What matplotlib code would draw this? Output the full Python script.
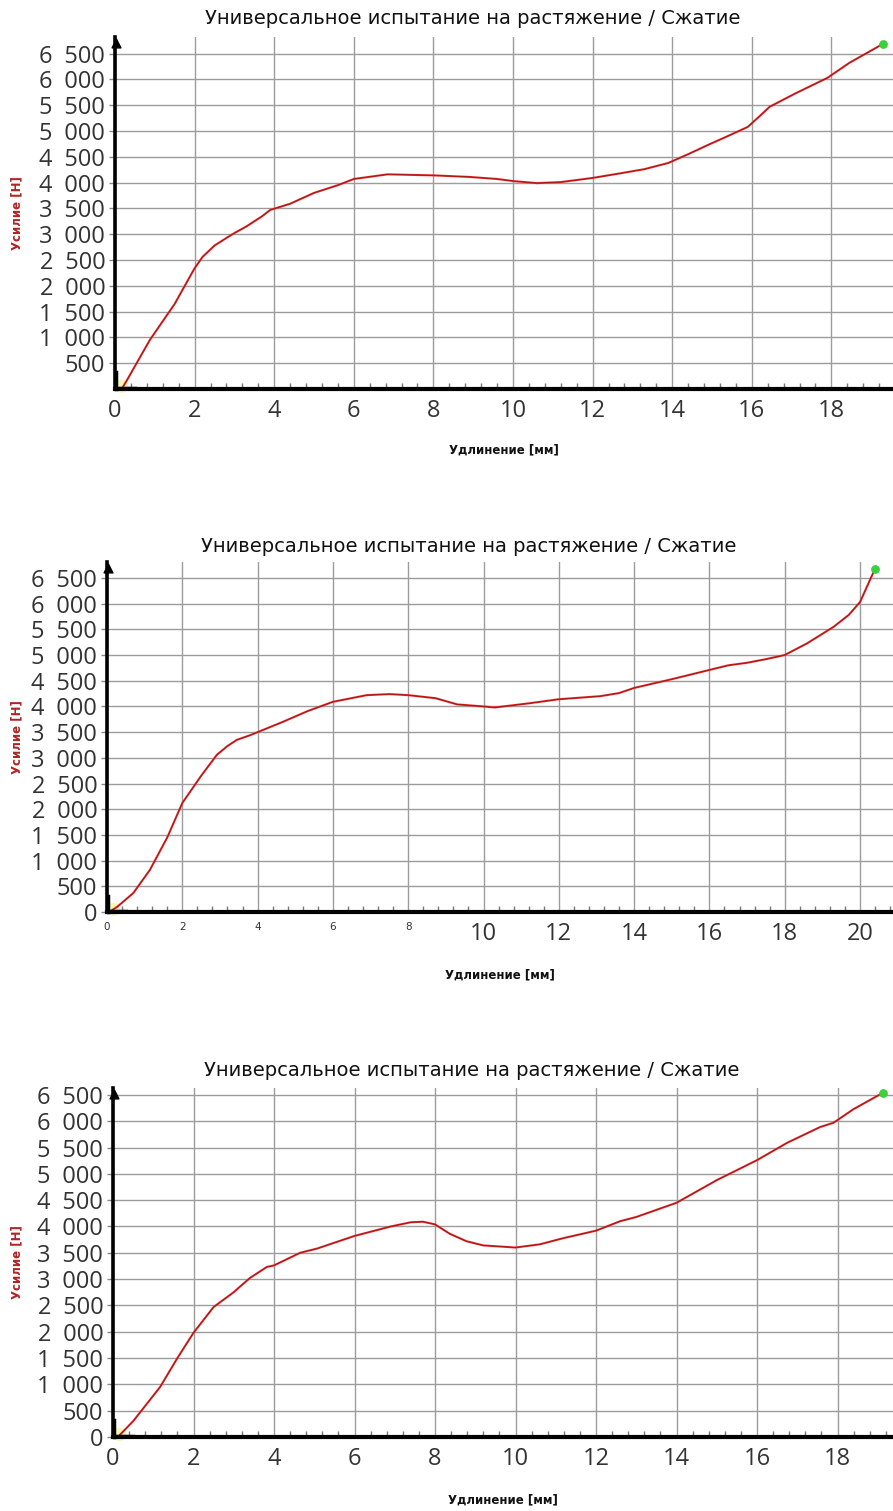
import matplotlib
matplotlib.use("Agg")
import matplotlib.pyplot as plt
import numpy as np

# ---------------- data ----------------
title_text = "Универсальное испытание на растяжение / Сжатие"
xlabel_text = "Удлинение [мм]"
ylabel_text = "Усилие [Н]"

p1_x = [0.2, 0.3, 0.875, 1.5, 2.0, 2.2, 2.5, 2.95, 3.3, 3.7, 3.9, 4.4, 5.0, 5.6, 6.0,
        6.85, 8.0, 8.9, 9.6, 10.0, 10.6, 11.2, 12.0, 12.7, 13.3, 13.9, 14.4, 14.9,
        15.45, 15.9, 16.2, 16.45, 17.1, 17.9, 18.45, 19.3]
p1_y = [40, 170, 950, 1650, 2340, 2560, 2780, 3000, 3150, 3350, 3470, 3590, 3800, 3950, 4070,
        4160, 4140, 4110, 4070, 4030, 3990, 4010, 4090, 4180, 4260, 4380, 4550, 4730,
        4920, 5080, 5290, 5470, 5730, 6030, 6320, 6690]

p2_x = [0.1, 0.27, 0.7, 1.14, 1.6, 2.0, 2.5, 2.92, 3.2, 3.45, 3.8, 4.0, 4.67, 5.33, 6.0, 6.9,
        7.5, 8.0, 8.73, 9.3, 10.0, 10.3, 11.2, 12.0, 13.1, 13.6, 14.0, 15.0, 16.0, 16.5,
        17.0, 17.5, 18.0, 18.6, 19.3, 19.7, 20.0, 20.4]
p2_y = [20, 100, 370, 820, 1450, 2120, 2650, 3060, 3230, 3350, 3440, 3500, 3700, 3910, 4090, 4220,
        4240, 4220, 4160, 4040, 4000, 3980, 4060, 4140, 4200, 4260, 4360, 4530, 4710, 4800,
        4850, 4920, 5000, 5230, 5550, 5780, 6030, 6680]

p3_x = [0.17, 0.5, 1.17, 1.6, 2.0, 2.5, 2.98, 3.4, 3.82, 4.0, 4.65, 5.07, 6.0, 6.9, 7.4,
        7.7, 8.0, 8.37, 8.78, 9.2, 10.0, 10.6, 11.2, 12.0, 12.6, 13.0, 14.0, 15.0, 16.0,
        16.75, 17.57, 17.9, 18.4, 19.13]
p3_y = [40, 300, 950, 1500, 1980, 2470, 2740, 3020, 3230, 3260, 3500, 3580, 3820, 4000, 4080,
        4090, 4040, 3860, 3720, 3640, 3600, 3660, 3780, 3920, 4100, 4180, 4450, 4880, 5260,
        5590, 5890, 5970, 6230, 6540]

p1_yticks = [500, 1000, 1500, 2000, 2500, 3000, 3500, 4000, 4500, 5000, 5500, 6000, 6500]
p23_yticks = [0] + p1_yticks
p1_xticks = [0, 2, 4, 6, 8, 10, 12, 14, 16, 18]
p2_xticks = [0, 2, 4, 6, 8, 10, 12, 14, 16, 18, 20]
p2_small_xticks = [0, 2, 4, 6, 8]
p3_xticks = [0, 2, 4, 6, 8, 10, 12, 14, 16, 18]

# ---------------- figure ----------------
W, H = 893, 1511
fig = plt.figure(figsize=(W / 100, H / 100), dpi=100)
fig.patch.set_facecolor("white")

TICK_FONT = ["Open Sans", "DejaVu Sans"]
TXT_FONT = ["DejaVu Sans"]


def fmt(v):
    return f"{v:,}".replace(",", "\u2002")


def make_panel(rect, xs, ys, xlim, ylim, yticks, xticks, small_x=(),
               title_y=0, xlabel_y=0, ylabel_x=17):
    left, bottom, width, height = rect
    ax = fig.add_axes([left / W, 1 - bottom / H, width / W, height / H])
    ax.set_xlim(*xlim)
    ax.set_ylim(*ylim)
    ax.set_facecolor("white")
    ax.grid(True, color="#9c9c9c", linewidth=1.0)
    ax.set_axisbelow(True)
    for s in ("top", "right"):
        ax.spines[s].set_visible(False)
    ax.spines["left"].set_linewidth(2.6)
    ax.spines["left"].set_color("black")
    ax.spines["bottom"].set_linewidth(3.0)
    ax.spines["bottom"].set_color("black")
    ax.spines["left"].set_zorder(5)
    ax.spines["bottom"].set_zorder(5)

    ax.set_yticks(yticks)
    ax.set_yticklabels([fmt(v) for v in yticks], family=TICK_FONT, fontsize=17,
                       color="#333333")
    ax.set_xticks(xticks)
    labels = ax.set_xticklabels([str(v) for v in xticks], family=TICK_FONT,
                                fontsize=17, color="#333333")
    for lab, v in zip(labels, xticks):
        if v in small_x:
            lab.set_fontsize(7.5)
            lab.set_family(TXT_FONT)
    ax.tick_params(axis="y", length=4, width=1, color="#888888", pad=3)
    ax.tick_params(axis="x", length=0, pad=7)
    ax.set_xticks(np.arange(0, xlim[1], 0.4), minor=True)
    ax.tick_params(axis="x", which="minor", direction="in", length=4, width=1,
                   color="#777777")

    # curve: red with dark core
    ax.plot(xs, ys, color="#e42b2b", linewidth=1.5, zorder=3, solid_capstyle="round",
            solid_joinstyle="round")
    ax.plot(xs, ys, color="#7a1010", linewidth=0.4, zorder=4, solid_joinstyle="round")
    ax.scatter([xs[-1]], [ys[-1]], s=28, color="#3ad23a", zorder=6, clip_on=False)

    # origin marks
    ax.plot([0.02, 0.02], [0, 320], color="black", linewidth=2.5, zorder=6, clip_on=False)
    ax.plot([0.02, 0.5], [15, 15], color="black", linewidth=2.5, zorder=6, clip_on=False)
    ax.scatter([0.15], [60], s=90, color="#f2f26a", alpha=0.5, zorder=2, clip_on=False,
               linewidths=0)
    ax.scatter([0.02], [ylim[1] - 120], marker="^", s=40, color="black", zorder=6,
               clip_on=False)

    cx = (left + left + width) / 2
    fig.text(cx / W - 0.035, 1 - title_y / H, title_text, ha="center", va="center",
             fontsize=14, family=TXT_FONT, color="#111111")
    fig.text(cx / W, 1 - xlabel_y / H, xlabel_text, ha="center", va="center",
             fontsize=8.5, fontweight="bold", family=TXT_FONT, color="#111111")
    fig.text(ylabel_x / W, 1 - (bottom - height / 2) / H, ylabel_text, ha="center",
             va="center", rotation=90, fontsize=8.5, fontweight="bold",
             family=TXT_FONT, color="#b22222")
    return ax


# panel 1: x=0 at px 115, 39.8 px/mm; y=0 at px 389, 19.38 N/px
make_panel((115, 389, W - 115, 389 - 37), p1_x, p1_y,
           (0, (W - 115) / 39.8), (0, (389 - 37) * 19.38),
           p1_yticks, p1_xticks, title_y=19, xlabel_y=450)

# panel 2: x=0 at px 107, 37.65 px/mm; y=0 at px 912, 19.46 N/px
make_panel((107, 912, W - 107, 912 - 562), p2_x, p2_y,
           (0, (W - 107) / 37.65), (0, (912 - 562) * 19.46),
           p23_yticks, p2_xticks, small_x=p2_small_xticks, title_y=546, xlabel_y=975)

# panel 3: x=0 at px 113, 40.25 px/mm; y=0 at px 1437, 19.0 N/px
make_panel((113, 1437, W - 113, 1437 - 1088), p3_x, p3_y,
           (0, (W - 113) / 40.25), (0, (1437 - 1088) * 19.0),
           p23_yticks, p3_xticks, title_y=1071, xlabel_y=1500)

fig.savefig("out.png", dpi=100, facecolor="white")
